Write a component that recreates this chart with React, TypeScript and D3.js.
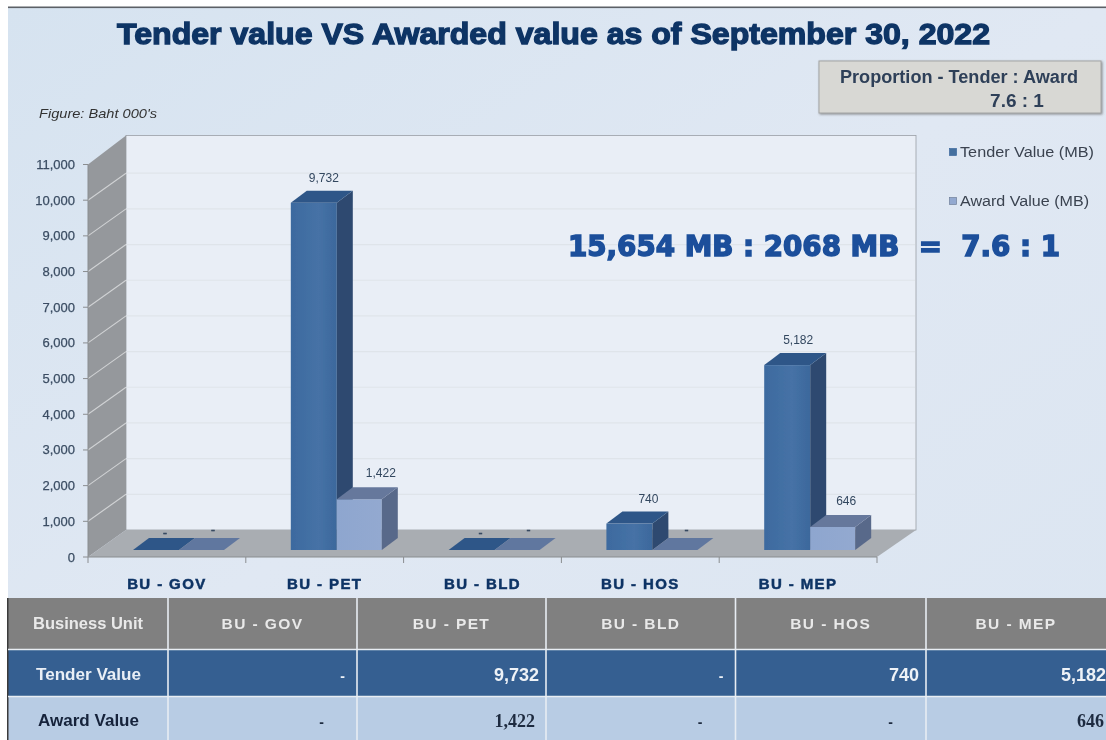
import React from "react";
import * as d3 from "d3";

const categories = ["BU - GOV", "BU - PET", "BU - BLD", "BU - HOS", "BU - MEP"];
const tenderValues = [0, 9732, 0, 740, 5182];
const awardValues = [0, 1422, 0, 0, 646];
const yTicks = [0, 1000, 2000, 3000, 4000, 5000, 6000, 7000, 8000, 9000, 10000, 11000];
const seriesNames = ["Tender Value (MB)", "Award Value (MB)"];
const rowNames = ["Tender Value", "Award Value"];
const colEdges = [8, 168, 357, 546, 735.5, 926, 1106];

// horizontal placement of the value labels relative to their bar
const tenderLabelShift = [32, 33, 32, 42, 34];
const awardLabelShift = [34, 44, 34, 34, 36];

const W = 1106, H = 740;
const y = d3.scaleLinear().domain([0, 11000]).range([557, 164.5]);
const x = d3.scaleBand<string>().domain(categories).range([88, 877]);
const DX = 38, DY = -27;
const WALL_TOP = 135.5;
const fmt = d3.format(",");
const cellText = (v: number) => (v === 0 ? "-" : fmt(v));
const SANS = "'Liberation Sans', Arial, sans-serif";
const NAVY = "#0f3465";
const BASE = 550;

const poly = (pts: number[][]) => pts.map((p) => p.join(",")).join(" ");

function Bar({ bx, w, v, front, top, side }: any) {
  const h = y(0) - y(v);
  const t = BASE - h;
  const dx = 16, dy = -12;
  return (
    <g>
      {v > 0 && <rect x={bx} y={t} width={w} height={h} fill={front} />}
      {v > 0 && <polygon points={poly([[bx + w, t], [bx + w + dx, t + dy], [bx + w + dx, BASE + dy], [bx + w, BASE]])} fill={side} />}
      <polygon points={poly([[bx, t], [bx + dx, t + dy], [bx + w + dx, t + dy], [bx + w, t]])} fill={top} />
    </g>
  );
}

function ValueLabel({ cx, v, gap, zeroGap }: any) {
  const top = BASE - (y(0) - y(v));
  return (
    <text x={cx} y={top - (v === 0 ? zeroGap : gap)} textAnchor="middle" fontFamily={SANS} fontSize={12} fill="#33475f" stroke={v === 0 ? "#33475f" : "none"} strokeWidth={0.5}>
      {cellText(v)}
    </text>
  );
}

export default function App() {
  const band = x.bandwidth();
  return (
    <svg width={W} height={H} viewBox={`0 0 ${W} ${H}`} style={{ position: "absolute", left: 0, top: 0, display: "block" }}>
      <defs>
        <linearGradient id="bg" x1="0" y1="0" x2="1" y2="1">
          <stop offset="0" stopColor="#d6e3f0" />
          <stop offset="0.5" stopColor="#e0e8f3" />
          <stop offset="1" stopColor="#dbe5f1" />
        </linearGradient>
        <linearGradient id="barF" x1="0" x2="1" y1="0" y2="0">
          <stop offset="0" stopColor="#3d6a9f" />
          <stop offset="0.6" stopColor="#4672a6" />
          <stop offset="1" stopColor="#3c689c" />
        </linearGradient>
        <linearGradient id="awF" x1="0" x2="1" y1="0" y2="0">
          <stop offset="0" stopColor="#8ea6cf" />
          <stop offset="1" stopColor="#93a9d0" />
        </linearGradient>
        <filter id="sh" x="-5%" y="-10%" width="110%" height="125%">
          <feDropShadow dx="1" dy="1" stdDeviation="1.2" floodColor="#666" floodOpacity="0.7" />
        </filter>
        <filter id="soft" x="0" y="0" width="100%" height="100%" filterUnits="objectBoundingBox">
          <feGaussianBlur stdDeviation="0.4" />
        </filter>
      </defs>
      <rect width={W} height={H} fill="#fff" />
      <g filter="url(#soft)">
      <rect x={8} y={7} width={W - 8} height={H - 7} fill="url(#bg)" />
      <rect x={8} y={6.5} width={W - 8} height={1.6} fill="#5b6066" />

      <text x={117} y={44} fontFamily={SANS} fontWeight={700} fontSize={30} fill={NAVY} stroke={NAVY} strokeWidth={1.3} textLength={873} lengthAdjust="spacingAndGlyphs">
        Tender value VS Awarded value as of September 30, 2022
      </text>

      <text x={39} y={118} fontFamily={SANS} fontStyle="italic" fontSize={13} fill="#333" textLength={118} lengthAdjust="spacingAndGlyphs">Figure: Baht 000's</text>

      {/* Proportion box */}
      <rect x={819} y={61} width={282} height={52} fill="#d8d8d4" stroke="#a3a5a5" filter="url(#sh)" />
      <text x={840} y={83} fontFamily={SANS} fontWeight={700} fontSize={18} fill="#2e3f58" textLength={238} lengthAdjust="spacingAndGlyphs">Proportion - Tender : Award</text>
      <text x={1017} y={107} textAnchor="middle" fontFamily={SANS} fontWeight={700} fontSize={19} fill="#2e3f58">7.6 : 1</text>

      {/* 3D walls */}
      <rect x={88 + DX} y={WALL_TOP} width={877 - 88 + 1} height={y(0) + DY - WALL_TOP} fill="#e9eef6" stroke="#9a9fa6" strokeWidth={0.8} />
      <polygon points={poly([[88, y(0)], [88 + DX, y(0) + DY], [88 + DX, WALL_TOP], [88, y(11000)]])} fill="#95989c" />
      <polygon points={poly([[88, y(0)], [88 + DX, y(0) + DY], [877 + DX + 1, y(0) + DY], [877, y(0)]])} fill="#a9adb2" />
      {yTicks.slice(1, -1).map((t) => (
        <g key={t}>
          <line x1={88 + DX} x2={877 + DX} y1={y(t) + DY} y2={y(t) + DY} stroke="#dfe4ea" strokeWidth={1.2} />
          <line x1={88} x2={88 + DX} y1={y(t)} y2={y(t) + DY} stroke="#d0d2d4" strokeWidth={1.1} />
        </g>
      ))}
      <line x1={88} x2={88} y1={y(11000)} y2={y(0)} stroke="#8a8d90" />
      <line x1={88} x2={877} y1={y(0)} y2={y(0)} stroke="#8a8d90" strokeWidth={1.2} />
      {yTicks.map((t) => (
        <g key={t}>
          <line x1={83} x2={88} y1={y(t)} y2={y(t)} stroke="#8a8d90" />
          <text x={75} y={y(t) + 4.5} textAnchor="end" fontFamily={SANS} fontSize={13} fill="#3b4d63" stroke="#3b4d63" strokeWidth={0.25}>{fmt(t)}</text>
        </g>
      ))}
      {[...categories.map((c) => x(c) as number), 877].map((tx) => (
        <line key={tx} x1={tx} x2={tx} y1={557} y2={563} stroke="#8a8d90" />
      ))}

      {/* Bars */}
      {categories.map((c, i) => {
        const bx = (x(c) as number) + 45;
        const w = 46;
        return (
          <g key={c}>
            <Bar bx={bx} w={w} v={tenderValues[i]} front="url(#barF)" top="#2f5788" side="#2e4a70" />
            <Bar bx={bx + w} w={w - 1} v={awardValues[i]} front="url(#awF)" top={awardValues[i] ? "#66789c" : "#61779f"} side="#59698a" />
            <ValueLabel cx={bx + tenderLabelShift[i]} v={tenderValues[i]} gap={21} zeroGap={13} />
            <ValueLabel cx={bx + w + awardLabelShift[i]} v={awardValues[i]} gap={22} zeroGap={16} />
            <text x={(x(c) as number) + band / 2} y={589} textAnchor="middle" fontFamily={SANS} fontWeight={700} fontSize={15} letterSpacing={1.4} fill={NAVY} stroke={NAVY} strokeWidth={0.5}>
              {c}
            </text>
          </g>
        );
      })}

      {/* Legend */}
      {seriesNames.map((s, i) => {
        const ly = 152 + i * 49;
        return (
          <g key={s}>
            <rect x={949.5} y={ly - 3.5} width={7} height={7} fill={i === 0 ? "#44709f" : "#93a9d0"} stroke={i === 0 ? "#3c689c" : "#6f7f99"} strokeWidth={0.7} />
            <text x={960} y={ly + 5} fontFamily={SANS} fontSize={14} fill="#3a4350" textLength={i === 0 ? 134 : 129} lengthAdjust="spacingAndGlyphs">{s}</text>
          </g>
        );
      })}

      <text x={568} y={256} fontFamily="'DejaVu Sans', sans-serif" fontWeight={700} fontSize={28} fill="#1b4f9b" stroke="#1b4f9b" strokeWidth={1.5} textLength={492} lengthAdjust="spacingAndGlyphs" xmlSpace="preserve">
        15,654 MB : 2068 MB  =  7.6 : 1
      </text>

      {/* Table */}
      <rect x={8} y={598} width={W - 8} height={51} fill="#808080" />
      <rect x={8} y={650} width={W - 8} height={46} fill="#355f91" />
      <rect x={8} y={697} width={W - 8} height={43} fill="#b8cce4" />
      <rect x={7} y={598} width={1.5} height={142} fill="#3a3a3a" />
      <line x1={8} x2={W} y1={649.5} y2={649.5} stroke="#e8edf3" strokeWidth={1.6} />
      <line x1={8} x2={W} y1={696.5} y2={696.5} stroke="#e8edf3" strokeWidth={1.6} />
      {colEdges.slice(1, -1).map((e) => (
        <line key={e} x1={e} x2={e} y1={598} y2={740} stroke="#e8edf3" strokeWidth={1.6} />
      ))}
      <text x={33} y={629} fontFamily={SANS} fontWeight={700} fontSize={16} fill="#e9e9e9" textLength={110} lengthAdjust="spacingAndGlyphs">Business Unit</text>
      {rowNames.map((r, i) => (
        <text key={r} x={i === 0 ? 36 : 38} y={i === 0 ? 680 : 726} fontFamily={SANS} fontWeight={700} fontSize={16} fill={i === 0 ? "#e9eef5" : "#15233a"} textLength={i === 0 ? 105 : 101} lengthAdjust="spacingAndGlyphs">{r}</text>
      ))}
      {categories.map((c, i) => {
        const l = colEdges[i + 1], r = colEdges[i + 2];
        const tv = tenderValues[i], av = awardValues[i];
        return (
          <g key={c}>
            <text x={(l + r) / 2} y={629} textAnchor="middle" fontFamily={SANS} fontWeight={700} fontSize={15.5} letterSpacing={1.4} fill="#e9e9e9">{c}</text>
            <text x={r - (tv ? (i === 4 ? 0 : 7) : 12)} y={681} textAnchor="end" fontFamily={SANS} fontWeight={700} fontSize={tv ? 18 : 14} fill="#eef2f7">{cellText(tv)}</text>
            <text x={r - (av ? (i === 4 ? 2 : 11) : 33)} y={727} textAnchor="end" fontFamily={av ? "'Liberation Serif', serif" : SANS} fontWeight={700} fontSize={av ? 18 : 14} fill="#1f2b3f">{cellText(av)}</text>
          </g>
        );
      })}
      </g>
    </svg>
  );
}
